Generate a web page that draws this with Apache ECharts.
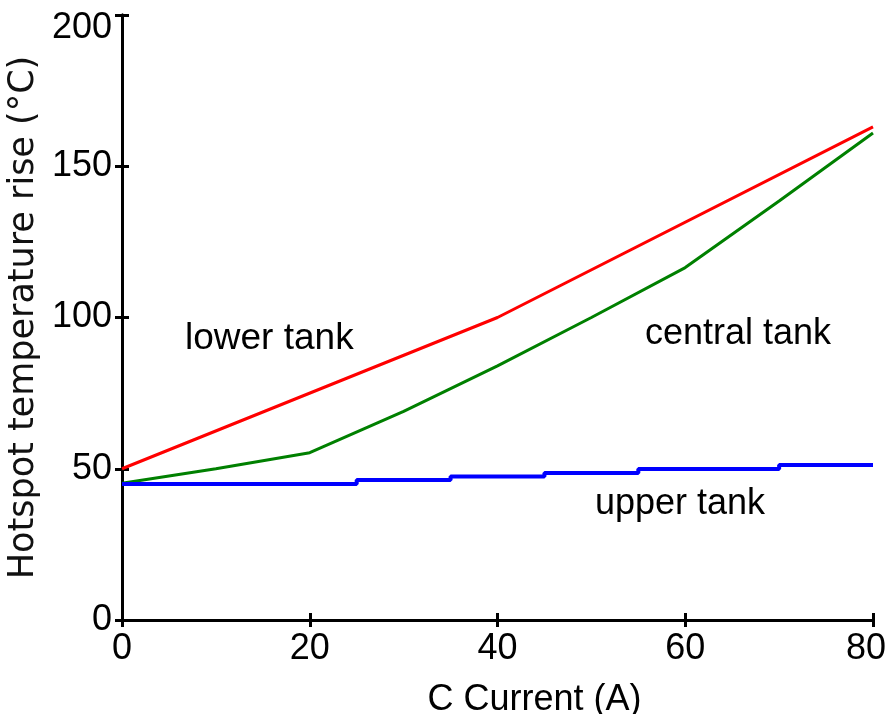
<!DOCTYPE html>
<html>
<head>
<meta charset="utf-8">
<script src="https://cdn.jsdelivr.net/npm/echarts@6/dist/echarts.min.js"></script>
<style>
html,body{margin:0;padding:0;background:#fff;}
#c{width:885px;height:714px;}
</style>
</head>
<body>
<div id="c"></div>
<script>
const xTicks = [0, 20, 40, 60, 80];
const yTicks = [0, 50, 100, 150, 200];
const lowerTank = [[0, 50], [40, 100], [80, 163]];
const centralTank = [[0, 45.2], [10, 50], [20, 55.3], [30, 69], [40, 84], [50, 100], [60, 116.5], [70, 138.5], [80, 161]];
const upperTank = [[0, 45], [25, 46.3], [35, 47.4], [45, 48.6], [55, 49.9], [70, 51.2], [80, 51.2]];
const labels = ['lower tank', 'central tank', 'upper tank'];

const FONT = 'Liberation Sans, Arial, sans-serif';
const chart = echarts.init(document.getElementById('c'));
const axisLine = { show: true, lineStyle: { color: '#000', width: 3 } };
const axisTick = { show: true, inside: true, length: 7, lineStyle: { color: '#000', width: 3 } };

chart.setOption({
  animation: false,
  backgroundColor: '#fff',
  grid: { left: 122, right: 12, top: 15, bottom: 94, containLabel: false, outerBoundsMode: 'none' },
  xAxis: [{
    type: 'value', min: 0, max: 80, interval: 20,
    axisLine, axisTick, splitLine: { show: false },
    axisLabel: {
      margin: 11, color: '#000', fontSize: 36, fontFamily: FONT,
      formatter: v => v === xTicks[xTicks.length - 1] ? '{r|' + v + '}' : String(v),
      rich: { r: { fontSize: 36, fontFamily: FONT, color: '#000', padding: [0, 14, 0, 0] } }
    },
    name: 'C Current (A)', nameLocation: 'middle', nameGap: 62,
    nameTextStyle: { color: '#000', fontSize: 36, fontFamily: FONT, padding: [0, 0, 0, 74] }
  }, {
    type: 'value', position: 'top', min: 0, max: 80, interval: 20,
    axisLine, axisTick, axisLabel: { show: false }, splitLine: { show: false }
  }],
  yAxis: [{
    type: 'value', min: 0, max: 200, interval: 50,
    axisLine, axisTick, splitLine: { show: false },
    axisLabel: {
      margin: 10, color: '#000', fontSize: 36, fontFamily: FONT,
      formatter: v => v === yTicks[yTicks.length - 1] ? '{t|' + v + '}' : String(v),
      rich: { t: { fontSize: 36, fontFamily: FONT, color: '#000', padding: [26, 0, 0, 0] } }
    },
    name: 'Hotspot temperature rise (°C)', nameLocation: 'middle', nameGap: 80,
    nameTextStyle: { color: '#111', fontSize: 35, fontFamily: 'DejaVu Sans, sans-serif' }
  }, {
    type: 'value', position: 'right', min: 0, max: 200, interval: 50,
    axisLine, axisTick, axisLabel: { show: false }, splitLine: { show: false }
  }],
  series: [
    { type: 'line', data: lowerTank, showSymbol: false, lineStyle: { color: '#ff0000', width: 3 }, itemStyle: { color: '#ff0000' } },
    { type: 'line', data: centralTank, showSymbol: false, lineStyle: { color: '#008000', width: 3 }, itemStyle: { color: '#008000' } },
    { type: 'line', data: upperTank, step: 'end', showSymbol: false, lineStyle: { color: '#0000ff', width: 4 }, itemStyle: { color: '#0000ff' } }
  ],
  graphic: [
    { type: 'text', left: 185, top: 320, style: { text: labels[0], fill: '#000', font: '37px ' + FONT } },
    { type: 'text', left: 645, top: 316, style: { text: labels[1], fill: '#000', font: '36px ' + FONT } },
    { type: 'text', left: 595, top: 486, style: { text: labels[2], fill: '#000', font: '36px ' + FONT } }
  ]
});
</script>
</body>
</html>
